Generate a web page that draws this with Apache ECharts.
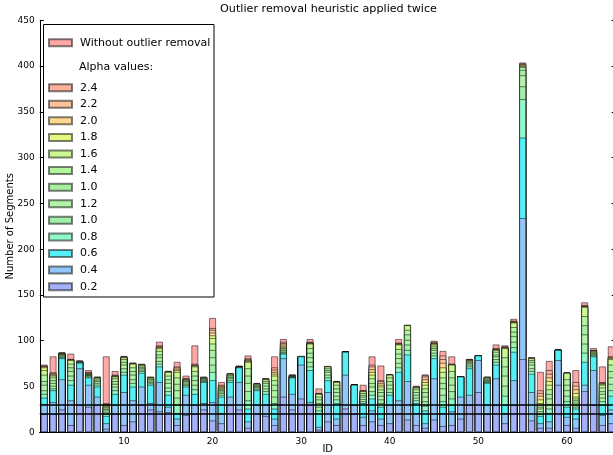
<!DOCTYPE html>
<html>
<head>
<meta charset="utf-8">
<script src="https://cdn.jsdelivr.net/npm/echarts@6/dist/echarts.min.js"></script>
<style>
html,body{margin:0;padding:0;overflow:hidden;background:#fff;}
#c{width:620px;height:455px;}
</style>
</head>
<body>
<div id="c"></div>
<script>
// ---------- data ----------
const ids = [];
for (let i = 1; i <= 65; i++) ids.push(String(i));

const titleText = 'Outlier removal heuristic applied twice';
const xName = 'ID';
const yName = 'Number of Segments';
const alphaHeading = 'Alpha values:';
const refLines = [20, 30];

const withoutRemoval = [74,83,87.5,86,78.5,68,61,83,67,83.5, 76.2,75,61,99,67.2,77,62,95,61,125, 55,64.5,73,84,54,59.2,83,102,63.3,83.5, 102,48,72.6,56.2,88.6,52.5,52,83,73,63.5, 102,117.5,51,63.3,100,89,83,61.5,80.2,84.5, 61,96,95,124,404,82,66,78,90.5,65.5, 68,142,92,72,94];
const a24 = [73,65.5,87.2,80.2,78.2,66,60.6,32,63,83, 76,74.5,60.5,95,67,72,59,75,60.5,114, 52,64.3,72.5,81,53.4,59,71,99,63,83.4, 99,43,72.4,56,88.6,52.4,46,74,57,63.3, 98,117.3,50,62.5,99,84,75,61.4,80,84.4, 60.7,92,94,122,403,81.8,46,68,90.5,65.4, 55,139,90,55,83];
const a22 = [72.5,65,87,80,78,65.5,60.5,31,62.5,82.8, 75.8,74.4,60.4,94,66.8,71,58.8,74,60.4,112, 51,64.3,72.4,80,53.3,58.7,68.5,97.5,62.8,83.4, 98.5,42.7,72.3,55.7,88.5,52.4,45.8,72,56,63.3, 97.5,117.3,49.8,61,98,80,74.8,61.4,79.7,84.4, 60.5,91.5,93.5,121.5,402.5,81.6,43,64,90.4,65.3, 51,138.5,89.8,54.5,82.5];
const a20 = [72,64,86.7,79.6,78,65,60.4,30,62,82.5, 75.5,74.3,60.3,93.5,66.5,69.5,58.5,73.5,60.3,109, 50,64.2,72.3,79,53.2,58.5,66,96,62.5,83.3, 98,42.5,72.2,55.5,88.5,52.3,45.5,69,54,63.2, 97,117.2,49.5,58,97.5,76,74.5,61.3,79.5,84.3, 60.4,91,93,121,402,81.4,40,60,90.4,65.2, 47,138,89.5,53.8,81.8];
const a18 = [71,63,86.5,79.3,78,64.5,60.2,29,61.5,82.3, 75.3,74.2,60.2,93,66.3,68,58.3,73,60.2,106, 49,64.1,72.2,78,53.1,58.3,64,94.5,62.3,83.3, 97.5,42.3,72.1,55.3,88.4,52.3,45.3,66,52,63.1, 96.5,117.1,49.3,55,97,71,74.3,61.3,79.3,84.3, 60.2,90.5,92.5,120.5,401,81.2,36,56,90.3,65.1, 43,137.5,89.3,53,81];
const a16 = [68,62,86,79,78,64,60,28,61,82, 75,74,60,92,66,66,58,72,60,103, 48,64,72,77,53,58,62,93,62,83.3, 97,42,72,55,88.4,52.2,45,63,50,63, 96,117,49,52,96,66,74,61.2,79,84.2, 60,90,92,120,400,81,32,52,90.3,65, 39,137,89,52,80];
const a14 = [63,60,85.5,75,77.8,63.5,59,27,59,80, 71,73,59,89,62,60,57,67,59.4,97, 47,63,71.9,70,52,56,57,92,61.7,83.2, 92,39,70,52,88.3,52.2,43,59,47,60, 91,112,47,48,94,60,67,61.2,78,84.2, 59,88,82,115,399,79,30,47,90.2,58, 37,127,88,49,74];
const a10first = [56,57,85,71,77.6,63,57.5,25.5,56,77, 67,71.5,58,85,58,53,56,62,58.7,90, 46,62,71.8,62,51,54,52,90.5,61.3,83.2, 87,36,68,48,88.3,52.1,41,54,44,56, 86,107,44,44,92,54,60,61.1,77,84.1, 58,85,72,110,396,77,28,42,90.2,52, 35,117,87,45,67];
const a12 = [52,54,84,67,77.3,62.5,56,24,53,74, 63,70,56.5,82,54,46,54.5,57,58,82, 44.5,60.5,71.6,54,50,51,46,89.5,61,83.1, 82,32,66,44,88.2,52.1,39,50,40,52, 81,101,41,39,90,48,52,61.1,75.5,84.1, 57,83,62,105,390,74,26,37,90.1,46, 32.5,107,86,42,60];
const a10second = [46,51,83,62,77,62,54,22,50,70, 58,68.5,55,78,49,38,53,52,57,74, 43,59,71.4,45,49,48,39,88,60.6,83.1, 77,28,63,40,88.2,52,36.5,45,36,48, 76,96,38,34,87,41,45,61,74,84, 56,80,51,99,378,70,23,31,90.1,40, 30,97,85,38,53];
const a08 = [42,48,82,57,76.5,61,52,20,46,66, 54,67,53.5,75,45,30,51.5,47,56,66, 41,57,71.2,35,47.5,45,32,87,60.3,83, 72,24,60,36,88.1,52,34,41,32,44, 71,90,35,29,84,34,37,61,72,84, 55,77,40,93,364,67,20,26,90,34, 28,87,84,34,46];
const a06 = [38,46,81,52,76,60,50,18,42,63, 50,65,52,72,41,21,50,42,55,57, 39,55,71,26,46,42,26,86,60,83, 68,21,57,32,88,52,32,37,28,41, 66,85,32,24,81,28,30,61,70,84, 54,74,30,88,322,64,18,21,90,28, 26,77,83,30,40];
const a04 = [31,33,58,35,70,52,39,10,30,44, 35,50,32,55,28,15,41,30,32,33, 21,39,55,12,30,30,15,81,42,74, 33,6,44,15,63,30,17,24,15,30, 35,56,21,10,59,21,23,39,41,79, 30,59,21,57,234,44,10,12,79,17, 15,52,68,19,25];
const a02 = [20,20,25,8,30,28,30,4,20,8, 12,30,25,23,22,8,19,20,25,13, 10,30,25,5,20,18,8,39,25,37, 30,3,12,8,26,20,8,12,8,10, 21,14,8,5,14,7,8,15,30,44, 20,30,10,30,80,13,5,5,52,8, 5,45,30,8,10];

// series in drawing order (first = behind)
const seriesNames = ['Without outlier removal','2.4','2.2','2.0','1.8','1.6','1.4','1.0','1.2','1.0 ','0.8','0.6','0.4','0.2'];
const seriesData = [withoutRemoval,a24,a22,a20,a18,a16,a14,a10first,a12,a10second,a08,a06,a04,a02];
const seriesColors = ['#ffa8a8','#fcb09e','#fcc29c','#ffd890','#e2f882','#cbf890','#b4f6a0','#a8f0a0','#b2f4a8','#a2f0a8','#92f8c8','#55f0f6','#92c6f8','#a4b0f8'];
const alphaLegend = ['2.4','2.2','2.0','1.8','1.6','1.4','1.0','1.2','1.0 ','0.8','0.6','0.4','0.2'];

// ---------- chart ----------
const FONT = 'DejaVu Sans';
const chart = echarts.init(document.getElementById('c'));
const tickEvery10 = (idx, val) => Number(val) % 10 === 0;

const series = seriesNames.map((name, k) => {
  const s = {
    name: name,
    type: 'bar',
    data: seriesData[k],
    barWidth: '80%',
    barGap: '-100%',
    animation: false,
    itemStyle: { color: seriesColors[k], borderColor: 'rgba(0,0,0,0.5)', borderWidth: 1 },
    emphasis: { disabled: true }
  };
  if (k === seriesNames.length - 1) {
    s.markLine = {
      silent: true,
      symbol: ['none', 'none'],
      label: { show: false },
      lineStyle: { color: '#000', width: 1.6, type: 'solid' },
      data: refLines.map(v => ({ yAxis: v }))
    };
  }
  return s;
});

const legendCommon = {
  orient: 'vertical',
  left: 48,
  padding: 0,
  itemWidth: 23,
  itemHeight: 7,
  icon: 'rect',
  selectedMode: false,
  formatter: n => n.trim(),
  textStyle: { fontFamily: FONT, fontSize: 11, color: '#000', lineHeight: 12, padding: [0, 0, 0, 3] }
};

const option = {
  animation: false,
  backgroundColor: '#fff',
  title: {
    text: titleText,
    left: 220,
    top: 4,
    padding: 0,
    textStyle: { fontFamily: FONT, fontSize: 11.2, fontWeight: 'normal', color: '#000' }
  },
  graphic: [
    { type: 'rect', z: 3, shape: { x: 43.5, y: 24.5, width: 170.5, height: 272.5 },
      style: { fill: '#fff', stroke: '#000', lineWidth: 1 } },
    { type: 'text', z: 5, left: 79, top: 61.5,
      style: { text: alphaHeading, fontFamily: FONT, fontSize: 11, fill: '#000' } }
  ],
  legend: [
    Object.assign({}, legendCommon, { top: 36.7, data: ['Without outlier removal'] }),
    Object.assign({}, legendCommon, { top: 81.7, itemGap: 4.58, data: alphaLegend })
  ],
  grid: { left: 39.8, right: 4.3, top: 20.3, bottom: 22.7, containLabel: false, outerBoundsMode: 'none' },
  xAxis: [
    {
      type: 'category', data: ids, position: 'bottom', boundaryGap: true,
      axisLine: { lineStyle: { color: '#000', width: 1 } },
      axisTick: { inside: true, length: 4, interval: tickEvery10, alignWithLabel: true, lineStyle: { color: '#000' } },
      axisLabel: { interval: tickEvery10, fontFamily: FONT, fontSize: 9, color: '#000', margin: 5 },
      name: xName, nameLocation: 'middle', nameGap: 12, nameMoveOverlap: false,
      nameTextStyle: { fontFamily: FONT, fontSize: 10, color: '#000' }
    },
    {
      type: 'category', data: ids, position: 'top', boundaryGap: true,
      axisLine: { lineStyle: { color: '#000', width: 1 } },
      axisTick: { inside: true, length: 4, interval: tickEvery10, alignWithLabel: true, lineStyle: { color: '#000' } },
      axisLabel: { show: false }
    }
  ],
  yAxis: [
    {
      type: 'value', min: 0, max: 450, interval: 50, position: 'left',
      axisLine: { show: true, lineStyle: { color: '#000', width: 1 } },
      axisTick: { show: true, inside: true, length: 4, lineStyle: { color: '#000' } },
      axisLabel: { fontFamily: FONT, fontSize: 9, color: '#000', margin: 5 },
      splitLine: { show: false },
      name: yName, nameLocation: 'middle', nameRotate: 90, nameGap: 24, nameMoveOverlap: false,
      nameTextStyle: { fontFamily: FONT, fontSize: 10, color: '#000' }
    },
    {
      type: 'value', min: 0, max: 450, interval: 50, position: 'right',
      axisLine: { show: true, lineStyle: { color: '#000', width: 1 } },
      axisTick: { show: true, inside: true, length: 4, lineStyle: { color: '#000' } },
      axisLabel: { show: false },
      splitLine: { show: false }
    }
  ],
  series: series
};
chart.setOption(option);
</script>
</body>
</html>
